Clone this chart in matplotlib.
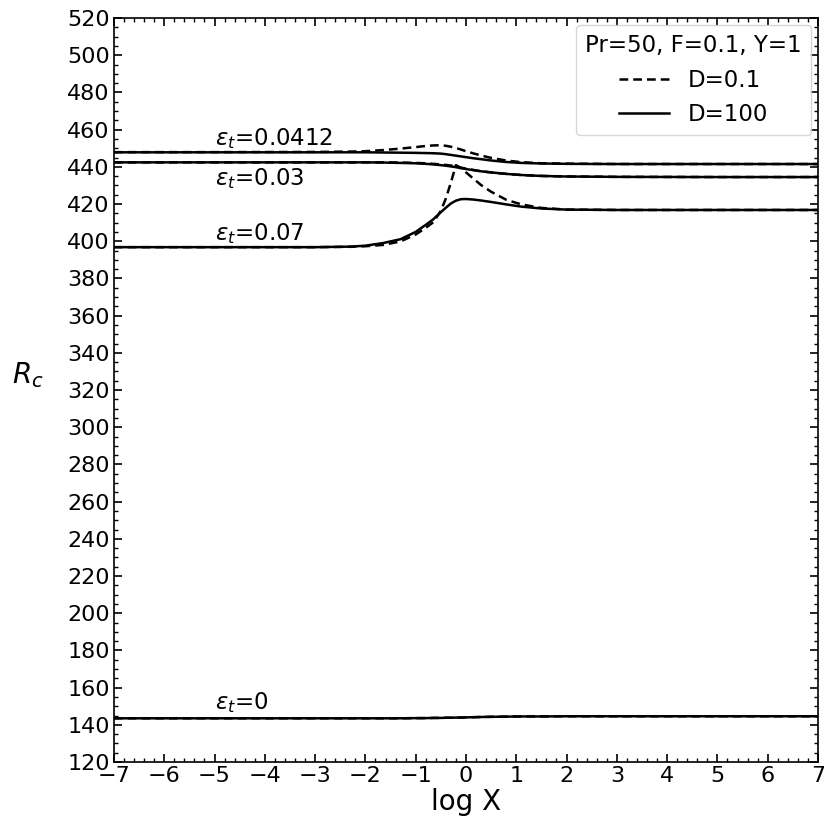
import matplotlib
matplotlib.use("Agg")
import matplotlib.pyplot as plt
from matplotlib.ticker import MultipleLocator

# log X sample points and R_c values for each epsilon_t (D=0.1 dashed, D=100 solid)
logx = [-7, -5, -3, -2.3, -2, -1.65, -1.3, -1.0, -0.8, -0.65, -0.5, -0.4, -0.3, -0.2,
        -0.1, 0.0, 0.15, 0.3, 0.5, 0.8, 1.1, 1.5, 2.0, 3, 5, 7]

r_0412_d100 = [447.8, 447.8, 447.8, 447.8, 447.8, 447.7, 447.6, 447.5, 447.4, 447.3,
               447.1, 446.8, 446.4, 446.0, 445.6, 445.2, 444.6, 444.1, 443.4, 442.6,
               442.1, 441.8, 441.6, 441.5, 441.5, 441.5]
r_0412_d01 = [447.9, 447.9, 448.0, 448.2, 448.4, 449.0, 449.8, 450.6, 451.2, 451.5,
              451.6, 451.3, 450.8, 450.1, 449.3, 448.4, 447.2, 446.1, 444.8, 443.4,
              442.5, 441.9, 441.7, 441.5, 441.5, 441.5]

r_03_d100 = [442.4, 442.4, 442.4, 442.4, 442.4, 442.3, 442.1, 441.9, 441.6, 441.3,
             440.9, 440.6, 440.2, 439.8, 439.3, 438.8, 438.2, 437.6, 437.0, 436.2,
             435.6, 435.1, 434.8, 434.6, 434.5, 434.5]
r_03_d01 = [442.4, 442.4, 442.4, 442.4, 442.4, 442.4, 442.3, 442.1, 441.9, 441.6,
            441.3, 441.0, 440.7, 440.3, 439.6, 439.0, 438.3, 437.6, 437.0, 436.2,
            435.6, 435.1, 434.8, 434.6, 434.5, 434.5]

r_07_d100 = [396.8, 396.8, 396.8, 397.1, 397.6, 399.0, 401.1, 405.0, 408.8, 411.8,
             415.6, 418.0, 420.3, 421.8, 422.6, 422.7, 422.4, 421.9, 421.1, 419.8,
             418.6, 417.6, 417.0, 416.8, 416.8, 416.8]
r_07_d01 = [396.8, 396.8, 396.8, 397.0, 397.3, 398.0, 399.9, 403.6, 407.2, 410.2,
            416.3, 423.0, 431.5, 440.9, 439.3, 437.0, 433.6, 430.2, 426.6, 422.3,
            419.8, 417.9, 417.0, 416.8, 416.8, 416.8]

r_0_d100 = [143.5, 143.5, 143.5, 143.5, 143.5, 143.5, 143.5, 143.6, 143.6, 143.7,
            143.7, 143.8, 143.8, 143.9, 143.9, 144.0, 144.1, 144.2, 144.3, 144.4,
            144.5, 144.5, 144.6, 144.6, 144.6, 144.6]
r_0_d01 = r_0_d100

# curve annotations: (label, log X, R_c baseline)
eps_labels = [r"$\varepsilon_t$=0.0412", r"$\varepsilon_t$=0.03",
              r"$\varepsilon_t$=0.07", r"$\varepsilon_t$=0"]
eps_label_x = [-5.0, -5.0, -5.0, -5.0]
eps_label_y = [451.7, 430.2, 400.6, 148.2]

legend_title = "Pr=50, F=0.1, Y=1"
legend_names = ["D=0.1", "D=100"]

plt.rcParams["font.family"] = "DejaVu Sans"
fig = plt.figure(figsize=(8.24, 8.23), dpi=100)
ax = fig.add_axes([0.1383, 0.0741, 0.8544, 0.9040])

lw = 1.8
pairs = [(r_0412_d01, r_0412_d100), (r_03_d01, r_03_d100),
         (r_07_d01, r_07_d100), (r_0_d01, r_0_d100)]
h_dash = h_solid = None
for dashed, solid in pairs:
    h_solid, = ax.plot(logx, solid, color="black", lw=lw, ls="-")
    h_dash, = ax.plot(logx, dashed, color="black", lw=lw, ls=(0, (3.5, 2.0)))

for txt, x, y in zip(eps_labels, eps_label_x, eps_label_y):
    ax.text(x, y, txt, fontsize=16.5, ha="left", va="baseline")

ax.set_xlim(-7, 7)
ax.set_ylim(120, 520)
ax.xaxis.set_major_locator(MultipleLocator(1))
ax.xaxis.set_minor_locator(MultipleLocator(0.2))
ax.yaxis.set_major_locator(MultipleLocator(20))
ax.yaxis.set_minor_locator(MultipleLocator(5))
ax.tick_params(which="both", direction="in", top=True, right=True, labelsize=16)
ax.tick_params(which="major", length=6, width=1.2, pad=3)
ax.tick_params(which="minor", length=3, width=1.0)
for sp in ax.spines.values():
    sp.set_linewidth(1.2)

ax.set_xlabel("log X", fontsize=20, labelpad=1)
ax.set_ylabel("$R_c$", fontsize=20, rotation=0)
ax.yaxis.set_label_coords(-0.122, 0.50)

leg = ax.legend([h_dash, h_solid], legend_names, title=legend_title,
                loc="upper right", fontsize=16.5, title_fontsize=16.5,
                handlelength=2.2, borderaxespad=0.3)
leg.get_frame().set_edgecolor("#cccccc")

fig.savefig("out.png", dpi=100)
